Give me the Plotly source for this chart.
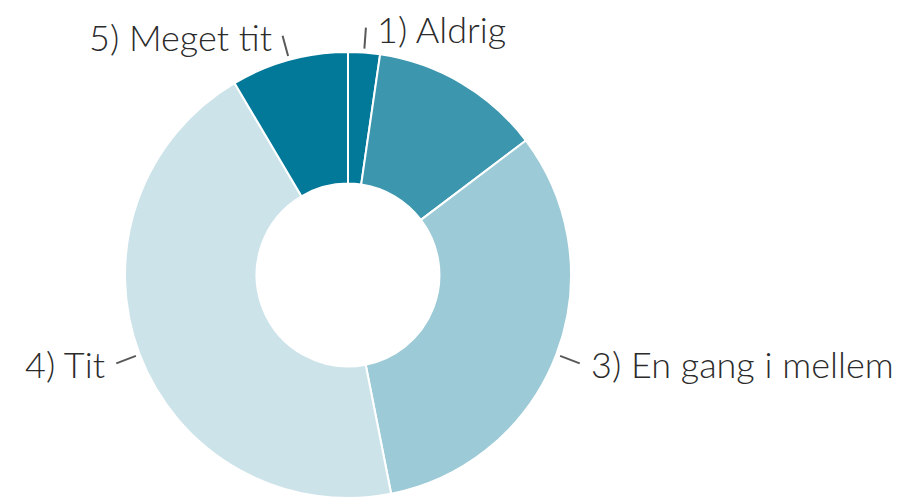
import math
import plotly.graph_objects as go

# ---- data ----
categories = ["1) Aldrig", "2) Sjældent", "3) En gang i mellem", "4) Tit", "5) Meget tit"]
values = [2.3, 12.4, 32.2, 44.6, 8.5]
show_label = [True, False, True, True, True]
colors = ["#03799a", "#3c96ae", "#9ccad6", "#cde3ea", "#03799a"]

W, H = 916, 498
R = 223            # outer radius in px
CX, CY = 348, 498 - R
HOLE = 0.41

fig = go.Figure(go.Pie(
    labels=categories,
    values=values,
    sort=False,
    direction="clockwise",
    rotation=0,
    hole=HOLE,
    marker=dict(colors=colors, line=dict(color="white", width=2)),
    textinfo="none",
    hoverinfo="label+percent",
    showlegend=False,
    domain=dict(x=[(CX - R) / W, (CX + R) / W], y=[0, (2 * R) / H]),
))

# leader ticks and labels computed from the slice mid-angles
total = sum(values)
cum = 0.0
shapes = []
annotations = []
for cat, v, show in zip(categories, values, show_label):
    mid = (cum + v / 2) / total * 2 * math.pi
    cum += v
    if not show:
        continue
    sx, sy = math.sin(mid), math.cos(mid)
    r0, r1 = R + 4, R + 25
    x0, y0 = CX + r0 * sx, CY - r0 * sy
    x1, y1 = CX + r1 * sx, CY - r1 * sy
    shapes.append(dict(type="line", xref="paper", yref="paper",
                       x0=x0 / W, y0=1 - y0 / H, x1=x1 / W, y1=1 - y1 / H,
                       line=dict(color="#595959", width=2)))
    right = sx >= 0
    tx = x1 + (9 if right else -9)
    annotations.append(dict(text=cat, xref="paper", yref="paper",
                            x=tx / W, y=1 - (y1 + 1) / H,
                            xanchor="left" if right else "right", yanchor="middle",
                            showarrow=False,
                            font=dict(family="Lato, Open Sans, sans-serif", size=36,
                                      weight=300, color="#2b2b2b")))

fig.update_layout(
    width=W, height=H,
    margin=dict(l=0, r=0, t=0, b=0),
    paper_bgcolor="white", plot_bgcolor="white",
    shapes=shapes, annotations=annotations,
)

fig.write_html("out.html", config={"displayModeBar": False},
               post_script="document.body.style.margin='0';document.body.style.overflow='hidden';")
